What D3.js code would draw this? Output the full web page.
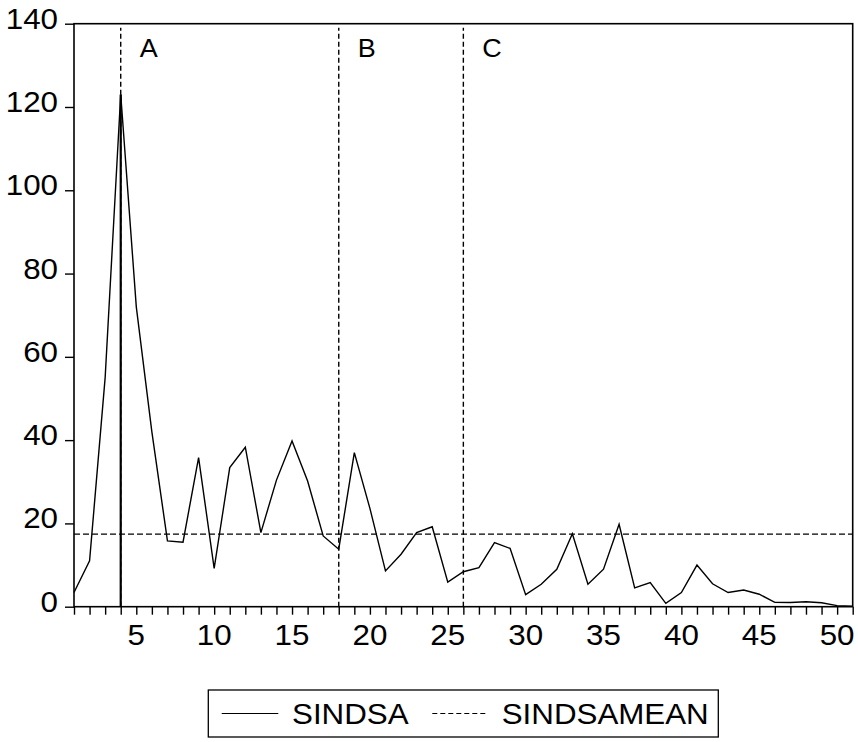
<!DOCTYPE html>
<html>
<head>
<meta charset="utf-8">
<script src="https://cdn.jsdelivr.net/npm/d3@7/dist/d3.min.js"></script>
<style>
  body { margin: 0; background: #fff; }
  text { font-family: "Liberation Sans", Arial, Helvetica, sans-serif; fill: #000; }
</style>
</head>
<body>
<svg id="chart" width="858" height="742"></svg>
<script>
// Observation index 1..51
const periods = d3.range(1, 52);

// SINDSA series
const sindsa = [
  3.4, 11.0, 55.0, 123.0, 72.0, 42.0, 15.8, 15.5, 35.8, 9.2,
  33.4, 38.3, 17.8, 30.4, 39.8, 30.2, 17.0, 13.8, 37.0, 23.6,
  8.6, 12.6, 17.8, 19.2, 5.9, 8.4, 9.4, 15.4, 14.0, 2.9,
  5.4, 9.0, 17.5, 5.4, 9.0, 19.8, 4.5, 5.8, 0.8, 3.4,
  10.0, 5.5, 3.4, 4.0, 3.0, 1.05, 1.0, 1.2, 0.95, 0.25,
  0.1
];

// Regime break markers
const breakPeriods = [4, 18, 26];
const breakLabels = ["A", "B", "C"];
const stemPeriod = 4;

const xTickLabels = [5, 10, 15, 20, 25, 30, 35, 40, 45, 50];
const yTickLabels = [0, 20, 40, 60, 80, 100, 120, 140];
const seriesNames = ["SINDSA", "SINDSAMEAN"];

const sindsaMean = d3.mean(sindsa);

const svg = d3.select("#chart");
const sx = 1.08; // horizontal stretch of lettering

const x = d3.scaleLinear().domain([1, 51]).range([74, 852.7]);
const y = d3.scaleLinear().domain([0, 140]).range([606.7, 23.7]);

// Tick marks
const xAxis = svg.append("g")
  .attr("transform", `translate(0,${y(0)})`)
  .call(d3.axisBottom(x).tickValues(periods).tickSize(8).tickFormat(""));
xAxis.select(".domain").remove();
xAxis.selectAll("line").attr("stroke", "#000").attr("stroke-width", 1.4);

const yAxis = svg.append("g")
  .attr("transform", `translate(${x(1)},0)`)
  .call(d3.axisLeft(y).tickValues(yTickLabels).tickSize(9).tickFormat(""));
yAxis.select(".domain").remove();
yAxis.selectAll("line").attr("stroke", "#000").attr("stroke-width", 1.4);

// Tick labels
svg.append("g").selectAll("text")
  .data(xTickLabels)
  .join("text")
  .attr("transform", d => `translate(${x(d)},645) scale(${sx},1)`)
  .attr("text-anchor", "middle")
  .attr("font-size", 29)
  .text(d => d);

svg.append("g").selectAll("text")
  .data(yTickLabels)
  .join("text")
  .attr("transform", d => `translate(58,${y(d) + 5}) scale(${sx},1)`)
  .attr("text-anchor", "end")
  .attr("font-size", 29)
  .text(d => d);

// Mean line
svg.append("line")
  .attr("x1", x(1)).attr("x2", x(51))
  .attr("y1", y(sindsaMean)).attr("y2", y(sindsaMean))
  .attr("stroke", "#000").attr("stroke-width", 1.4)
  .attr("stroke-dasharray", "6,3");

// Break lines
svg.append("g").selectAll("line")
  .data(breakPeriods)
  .join("line")
  .attr("x1", d => x(d)).attr("x2", d => x(d))
  .attr("y1", y(0)).attr("y2", y(139))
  .attr("stroke", "#000").attr("stroke-width", 1.4)
  .attr("stroke-dasharray", "5,3");

svg.append("line")
  .attr("x1", x(stemPeriod)).attr("x2", x(stemPeriod))
  .attr("y1", y(0)).attr("y2", y(sindsa[stemPeriod - 1]))
  .attr("stroke", "#000").attr("stroke-width", 2.2);

svg.append("g").selectAll("text")
  .data(breakPeriods)
  .join("text")
  .attr("transform", d => `translate(${x(d) + 19},56.7) scale(${sx},1)`)
  .attr("font-size", 25)
  .text((d, i) => breakLabels[i]);

// Series line
const line = d3.line()
  .x((d, i) => x(periods[i]))
  .y(d => y(d));

svg.append("path")
  .datum(sindsa)
  .attr("d", line)
  .attr("fill", "none")
  .attr("stroke", "#000")
  .attr("stroke-width", 1.4)
  .attr("stroke-linejoin", "miter");

// Plot frame
svg.append("rect")
  .attr("x", x(1)).attr("y", y(140))
  .attr("width", x(51) - x(1)).attr("height", y(0) - y(140))
  .attr("fill", "none").attr("stroke", "#000").attr("stroke-width", 1.6);

// Legend
const legend = svg.append("g");
legend.append("rect")
  .attr("x", 208.3).attr("y", 690)
  .attr("width", 510).attr("height", 47)
  .attr("fill", "#fff").attr("stroke", "#000").attr("stroke-width", 1.3);

const legendItems = [
  { name: seriesNames[0], x0: 221.7, x1: 278.3, tx: 292, dash: null },
  { name: seriesNames[1], x0: 432.3, x1: 485.7, tx: 501.7, dash: "5,3" }
];
legendItems.forEach(it => {
  legend.append("line")
    .attr("x1", it.x0).attr("x2", it.x1)
    .attr("y1", 713.5).attr("y2", 713.5)
    .attr("stroke", "#000").attr("stroke-width", 1.1)
    .attr("stroke-dasharray", it.dash);
  legend.append("text")
    .attr("transform", `translate(${it.tx},724) scale(${sx},1)`)
    .attr("font-size", 29)
    .text(it.name);
});
</script>
</body>
</html>
